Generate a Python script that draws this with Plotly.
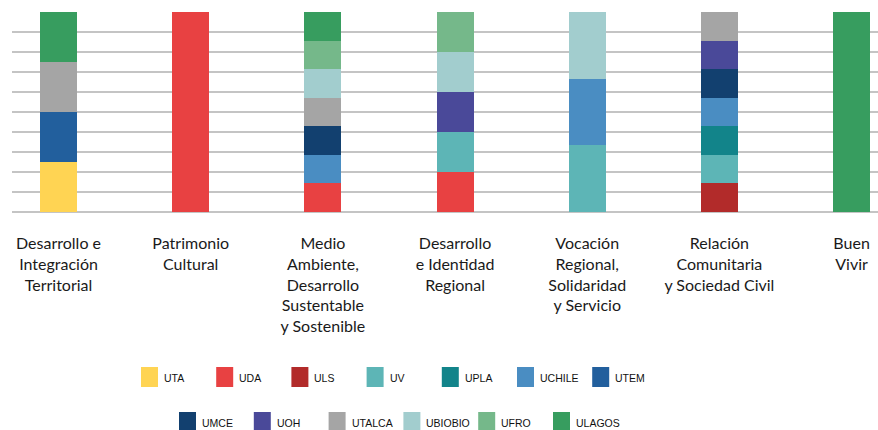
import plotly.graph_objects as go

# Ejes temáticos (eje X)
categories = [
    "Desarrollo e<br>Integración<br>Territorial",
    "Patrimonio<br>Cultural",
    "Medio<br>Ambiente,<br>Desarrollo<br>Sustentable<br>y Sostenible",
    "Desarrollo<br>e Identidad<br>Regional",
    "Vocación<br>Regional,<br>Solidaridad<br>y Servicio",
    "Relación<br>Comunitaria<br>y Sociedad Civil",
    "Buen<br>Vivir",
]

# Universidades (orden de apilado, de abajo hacia arriba)
universities = ["UTA", "UDA", "ULS", "UV", "UPLA", "UCHILE", "UTEM",
                "UMCE", "UOH", "UTALCA", "UBIOBIO", "UFRO", "ULAGOS"]

colors = ["#FFD453", "#E84142", "#B22B2A", "#5DB5B6", "#12848A", "#4A8DC2", "#225F9D",
          "#12406F", "#4A4999", "#A5A5A5", "#A2CDCE", "#75B88A", "#379D5F"]

# Presencia de cada universidad en cada eje (1 = participa)
UTA     = [1, 0, 0, 0, 0, 0, 0]
UDA     = [0, 1, 1, 1, 0, 0, 0]
ULS     = [0, 0, 0, 0, 0, 1, 0]
UV      = [0, 0, 0, 1, 1, 1, 0]
UPLA    = [0, 0, 0, 0, 0, 1, 0]
UCHILE  = [0, 0, 1, 0, 1, 1, 0]
UTEM    = [1, 0, 0, 0, 0, 0, 0]
UMCE    = [0, 0, 1, 0, 0, 1, 0]
UOH     = [0, 0, 0, 1, 0, 1, 0]
UTALCA  = [1, 0, 1, 0, 0, 1, 0]
UBIOBIO = [0, 0, 1, 1, 1, 0, 0]
UFRO    = [0, 0, 1, 1, 0, 0, 0]
ULAGOS  = [1, 0, 1, 0, 0, 0, 1]

values = [UTA, UDA, ULS, UV, UPLA, UCHILE, UTEM,
          UMCE, UOH, UTALCA, UBIOBIO, UFRO, ULAGOS]

W, H = 878, 430
ML, MR, MT, MB = 12, 0, 12, 218
PW, PH = W - ML - MR, H - MT - MB

fig = go.Figure()
for name, col, vals in zip(universities, colors, values):
    fig.add_trace(go.Bar(
        x=categories, y=vals, name=name,
        marker=dict(color=col, line=dict(width=0)),
        width=0.28, showlegend=False,
    ))


def px_to_paper(px, py):
    return (px - ML) / PW, (MT + PH - py) / PH


# Leyenda en dos filas, dibujada con rectángulos y texto
rows = [(universities[:7], colors[:7], 141, 75.2, 367),
        (universities[7:], colors[7:], 179, 74.8, 412)]
shapes, annotations = [], []
for names, cols, x0, step, y0 in rows:
    for i, (n, c) in enumerate(zip(names, cols)):
        sx = x0 + i * step
        ax0, ay0 = px_to_paper(sx, y0)
        ax1, ay1 = px_to_paper(sx + 17, y0 + 20)
        shapes.append(dict(type="rect", xref="paper", yref="paper",
                           x0=ax0, x1=ax1, y0=ay1, y1=ay0,
                           fillcolor=c, line=dict(width=0)))
        tx, ty = px_to_paper(sx + 21, y0 + 11)
        annotations.append(dict(text=n, xref="paper", yref="paper", x=tx, y=ty,
                                xanchor="left", yanchor="middle", showarrow=False,
                                font=dict(family="Liberation Sans Narrow, Liberation Sans",
                                          size=10.5, color="#111111")))

fig.update_layout(
    width=W, height=H,
    margin=dict(l=ML, r=MR, t=MT, b=MB),
    barmode="stack", barnorm="percent",
    plot_bgcolor="white", paper_bgcolor="white",
    shapes=shapes, annotations=annotations,
    showlegend=False,
    xaxis=dict(range=[-0.352, 6.2], showgrid=False, showline=False, ticks="",
               tickfont=dict(family="Lato", size=16, color="#1a1a1a"),
               tickangle=0, ticklabelstandoff=20),
    yaxis=dict(range=[0, 100], dtick=10, showticklabels=False,
               gridcolor="#C4C4C4", gridwidth=1.5,
               zeroline=True, zerolinecolor="#C4C4C4", zerolinewidth=1.5,
               showline=False),
)

fig.write_html("out.html")
